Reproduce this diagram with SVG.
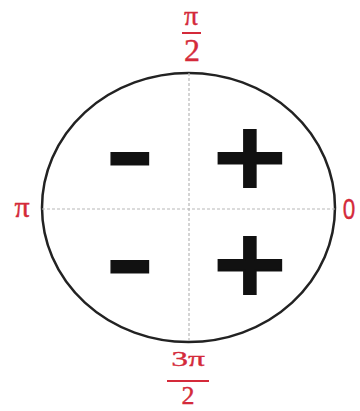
<svg xmlns="http://www.w3.org/2000/svg" width="360" height="411" viewBox="0 0 360 411">
<style>
.lbl{font-family:"Liberation Serif","Times New Roman",serif;fill:#d42a3a;text-anchor:middle;stroke:#d42a3a;stroke-width:0.4}
.sign{font-family:"DejaVu Sans",sans-serif;font-weight:bold;fill:#111;stroke:#111;stroke-width:2;text-anchor:middle}
.axis{stroke:#b8b8b8;stroke-width:1.2;stroke-dasharray:3 2;fill:none}
.frac{stroke:#d42a3a;stroke-width:2}
</style>
<rect width="360" height="411" fill="#fff"/>
<g id="circle">
<ellipse cx="188.5" cy="207.5" rx="146.5" ry="134.5" fill="none" stroke="#222" stroke-width="2.5"/>
</g>
<g id="axes">
<line class="axis" x1="42" y1="209" x2="335" y2="209"/>
<line class="axis" x1="189" y1="73" x2="189" y2="342"/>
</g>
<g id="label-top">
<text class="lbl" x="191" y="25" font-size="28">π</text>
<line class="frac" x1="182" y1="33" x2="201" y2="33"/>
<text class="lbl" x="192" y="61" font-size="32">2</text>
</g>
<g id="label-bottom">
<text class="lbl" font-size="28" transform="translate(188,366) scale(1.2,0.75)">3π</text>
<line class="frac" x1="167" y1="381" x2="209" y2="381"/>
<text class="lbl" x="188" y="404" font-size="26">2</text>
</g>
<g id="label-left">
<text class="lbl" x="22" y="217" font-size="30">π</text>
</g>
<g id="label-right">
<text class="lbl" font-size="30" style="font-family:'Liberation Sans',sans-serif" transform="translate(349,219) scale(0.75,1)">0</text>
</g>
<g id="signs">
<text class="sign" font-size="100" transform="translate(250,158) scale(1,0.9) translate(0,32)">+</text>
<text class="sign" font-size="100" transform="translate(250,265) scale(1,0.9) translate(0,32)">+</text>
<text class="sign" font-size="100" transform="translate(130,190) scale(0.6,1)">−</text>
<text class="sign" font-size="100" transform="translate(130,298) scale(0.6,1)">−</text>
</g>
</svg>
